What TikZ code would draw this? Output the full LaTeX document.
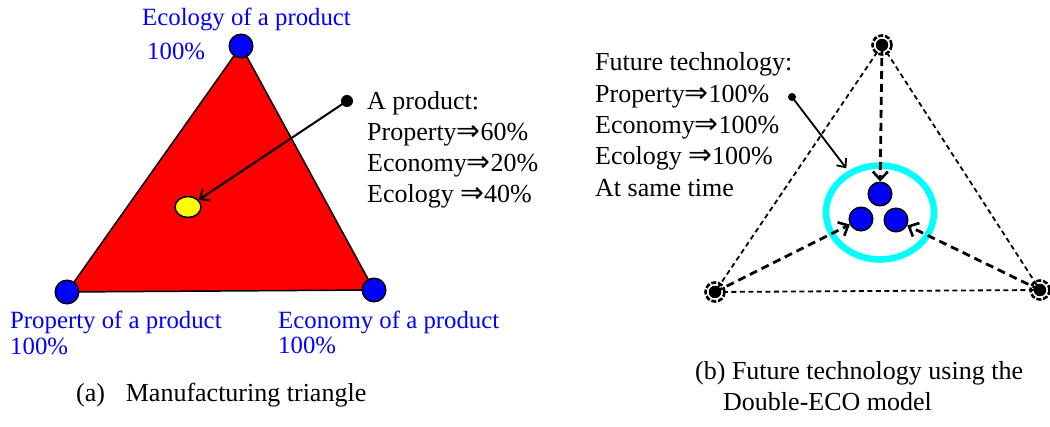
\documentclass[tikz,border=0pt]{standalone}
\usepackage{fontspec}
\setmainfont{Liberation Serif}
\newfontfamily\arrowfont{DejaVu Sans}
\usetikzlibrary{arrows.meta,shapes.geometric}
\newcommand\imp{{\arrowfont\fontsize{28.5}{31}\selectfont ⇒}}
\definecolor{pureblue}{RGB}{0,0,255}
\definecolor{purered}{RGB}{255,0,0}
\definecolor{pureyellow}{RGB}{255,255,0}
\definecolor{purecyan}{RGB}{0,255,255}
\begin{document}
\begin{tikzpicture}[x=1pt,y=-1pt,
  bluelabel/.style={text=pureblue, font=\fontsize{24.8}{30}\selectfont, inner sep=0, anchor=base west},
  txt/.style={text=black, font=\fontsize{26}{31}\selectfont, inner sep=0, anchor=base west},
  vtx/.style={circle, fill=pureblue, draw=black, line width=1.5pt, minimum size=23.5pt, inner sep=0},
  yel/.style={ellipse, fill=pureyellow, draw=black, line width=1.5pt, minimum width=26pt, minimum height=21pt, inner sep=0},
  blackdot/.style={circle, fill=black, minimum size=12pt, inner sep=0},
  mkdot/.style={circle, fill=black, minimum size=12.5pt, inner sep=0},
  mkring/.style={circle, draw=black, line width=2.6pt, dash pattern=on 5pt off 1.8pt, minimum size=19pt, inner sep=0},
  solidarr/.style={draw=black, line width=2pt, -{Straight Barb[length=8pt,width=14pt,line width=2pt]}},
  thinarr/.style={draw=black, line width=1.8pt, -{Straight Barb[length=7pt,width=12pt,line width=1.8pt]}},
  thindash/.style={draw=black, line width=1.8pt, dash pattern=on 5pt off 3.5pt},
  dasharr/.style={draw=black, line width=2.8pt, dash pattern=on 8pt off 5pt, -{Straight Barb[length=8pt,width=15pt,line width=2.6pt]}},
  ringstyle/.style={ellipse, draw=purecyan, line width=6.5pt, minimum width=108pt, minimum height=94pt, inner sep=0}
]
\useasboundingbox (0,0) rectangle (1050,427);
\fill[white] (0,0) rectangle (1050,427);

% ---------------- (a) Manufacturing triangle ----------------
\coordinate (pTop) at (241,46);
\coordinate (pBL) at (67,292);
\coordinate (pBR) at (374,290);
\filldraw[fill=purered, draw=black, line width=1.5pt] (pTop) -- (pBL) -- (pBR) -- cycle;
\node[vtx] (vTop) at (pTop) {};
\node[vtx] (vBL) at (pBL) {};
\node[vtx] (vBR) at (pBR) {};
\node[yel] (prod) at (188,207) {};
\node[blackdot] (d1) at (347,101) {};
\draw[solidarr] (d1.center) -- (prod);

\node[bluelabel] (ecoTop) at (142,26) {Ecology of a product};
\node[bluelabel] (ecoPct) at (147,60) {100\%};
\node[bluelabel] (propLab) at (10,329) {Property of a product};
\node[bluelabel] (propPct) at (10,355) {100\%};
\node[bluelabel] (econLab) at (278,329) {Economy of a product};
\node[bluelabel] (econPct) at (278,354) {100\%};

\node[txt] (a1) at (367,110) {A product:};
\node[txt] (a2) at (367,141) {Property\imp60\%};
\node[txt] (a3) at (367,172) {Economy\imp20\%};
\node[txt] (a4) at (367,203) {Ecology \imp40\%};

\node[txt] (capA) at (76,402) {(a)\hspace{0.8em}Manufacturing triangle};

% ---------------- (b) Future technology ----------------
\coordinate (qTop) at (882,45);
\coordinate (qBL) at (715,292);
\coordinate (qBR) at (1040,290);
\draw[thindash] (qTop) -- (qBL) -- (qBR) -- cycle;
\node[mkring] (rTop) at (qTop) {};
\node[mkring] (rBL) at (qBL) {};
\node[mkring] (rBR) at (qBR) {};
\node[mkdot] (mTop) at (qTop) {};
\node[mkdot] (mBL) at (qBL) {};
\node[mkdot] (mBR) at (qBR) {};

\node[ringstyle] (ring) at (880,212.5) {};
\node[vtx] (c1) at (880,194) {};
\node[vtx] (c2) at (861,219) {};
\node[vtx] (c3) at (896,220) {};

\draw[dasharr] (mTop.center) -- (c1);
\draw[dasharr] (mBL.center) -- (c2);
\draw[dasharr] (mBR.center) -- (c3);

\node[blackdot, minimum size=8pt] (d2) at (792,97) {};
\draw[thinarr, shorten >=3pt] (d2.center) -- (ring);

\node[txt] (b1) at (595,71) {Future technology:};
\node[txt] (b2) at (595,103) {Property\imp100\%};
\node[txt] (b3) at (595,134) {Economy\imp100\%};
\node[txt] (b4) at (595,165) {Ecology \imp100\%};
\node[txt] (b5) at (595,197) {At same time};

\node[txt] (capB1) at (695,380) {(b) Future technology using the};
\node[txt] (capB2) at (723,411) {Double-ECO model};
\end{tikzpicture}
\end{document}
